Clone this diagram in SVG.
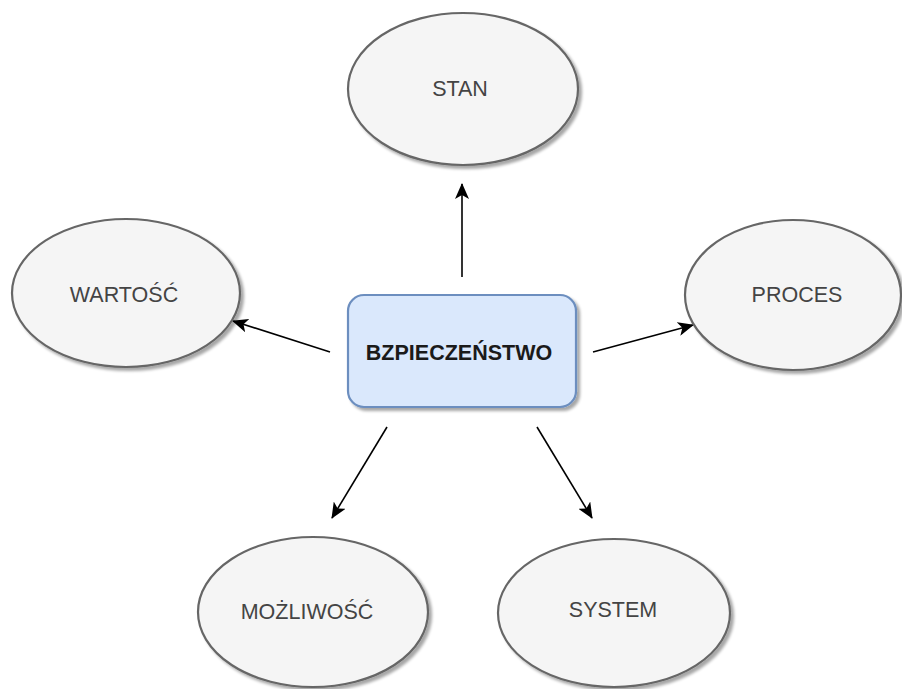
<svg xmlns="http://www.w3.org/2000/svg" width="902" height="689" viewBox="0 0 902 689">
<defs>
<filter id="sh" x="-10%" y="-10%" width="125%" height="125%">
<feGaussianBlur in="SourceAlpha" stdDeviation="1.5"/>
<feOffset dx="3" dy="3" result="b"/>
<feComponentTransfer><feFuncA type="linear" slope="0.35"/></feComponentTransfer>
<feMerge><feMergeNode/><feMergeNode in="SourceGraphic"/></feMerge>
</filter>
<marker id="a" viewBox="0 0 16 14" refX="15" refY="7" markerWidth="16" markerHeight="14" orient="auto" markerUnits="userSpaceOnUse">
<path d="M0,0 L16,7 L0,14 L4,7 Z" fill="#000"/>
</marker>
</defs>
<style>
.ell{fill:#f5f5f5;stroke:#666;stroke-width:2.2;filter:url(#sh)}
.lbl{font-family:"Liberation Sans",Arial,sans-serif;font-size:21.5px;fill:#444;text-anchor:middle;dominant-baseline:central}
.con{stroke:#000;stroke-width:1.6;fill:none;marker-end:url(#a)}
</style>
<rect width="902" height="689" fill="#fff"/>
<g id="connectors">
<line class="con" x1="462" y1="277" x2="462" y2="184"/>
<line class="con" x1="330" y1="352" x2="233" y2="321"/>
<line class="con" x1="593" y1="352" x2="693" y2="325"/>
<line class="con" x1="387" y1="427" x2="332" y2="518"/>
<line class="con" x1="537" y1="427" x2="592" y2="518"/>
</g>
<g id="center">
<rect x="348" y="295" width="228" height="112" rx="16" fill="#dae8fc" stroke="#6c8ebf" stroke-width="2.2" filter="url(#sh)"/>
<text class="lbl" x="459" y="353" font-weight="bold" style="fill:#1a1a1a">BZPIECZEŃSTWO</text>
</g>
<g id="stan">
<ellipse class="ell" cx="463" cy="89" rx="115" ry="76"/>
<text class="lbl" x="460" y="89">STAN</text>
</g>
<g id="wartosc">
<ellipse class="ell" cx="126" cy="293" rx="114" ry="74"/>
<text class="lbl" x="124" y="295">WARTOŚĆ</text>
</g>
<g id="proces">
<ellipse class="ell" cx="793" cy="295" rx="108" ry="75"/>
<text class="lbl" x="797" y="295">PROCES</text>
</g>
<g id="mozliwosc">
<ellipse class="ell" cx="313" cy="612" rx="115" ry="75"/>
<text class="lbl" x="307" y="612">MOŻLIWOŚĆ</text>
</g>
<g id="system">
<ellipse class="ell" cx="614" cy="613" rx="116" ry="74"/>
<text class="lbl" x="613" y="610">SYSTEM</text>
</g>
</svg>
